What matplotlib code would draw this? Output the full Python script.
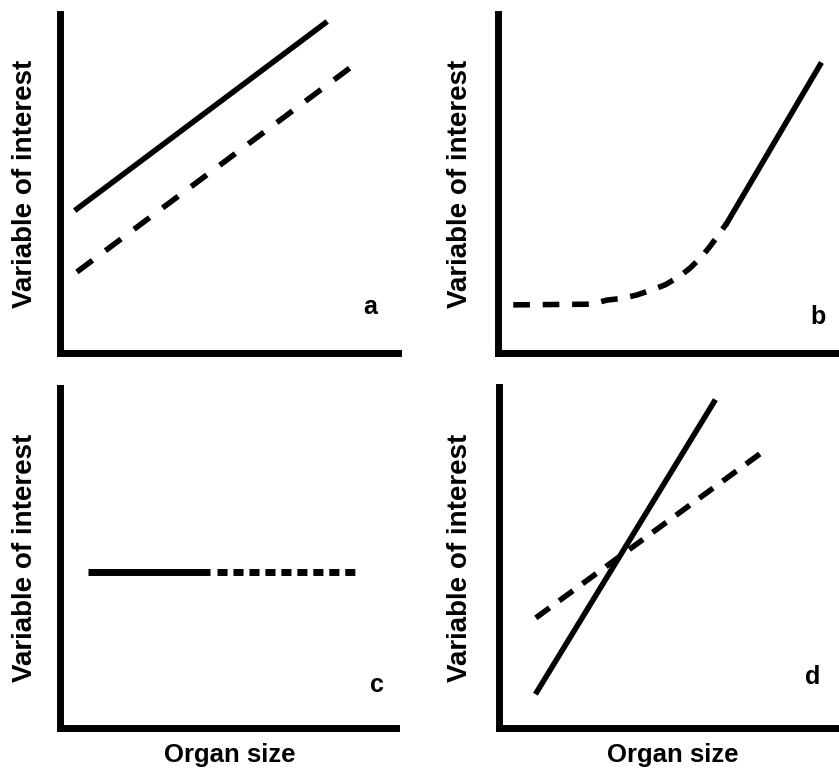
import matplotlib.pyplot as plt
import numpy as np

plt.rcParams['font.family'] = ['Liberation Sans', 'DejaVu Sans']

# panel a: two parallel lines
a_x = [0.5, 7.84]
a_solid = [4.25, 9.73]
a_dash_x = [0.5, 8.58]
a_dash = [2.39, 8.41]

# panel b: flat dashed part bending into a steep solid line
b_dash_x = [0.45, 2.76, 3.21, 3.65, 4.09, 4.53, 4.93, 5.37, 5.66, 6.01, 6.25, 6.5, 6.75]
b_dash = [1.42, 1.44, 1.56, 1.61, 1.71, 1.86, 2.01, 2.27, 2.50, 2.84, 3.14, 3.48, 3.83]
b_solid_x = [6.75, 9.5]
b_solid = [3.83, 8.5]

# panel c: constant value
c_solid_x = [0.83, 4.46]
c_dash_x = [4.67, 8.87]
c_level = 4.59

# panel d: crossing lines
d_solid_x = [1.12, 6.36]
d_solid = [1.06, 9.56]
d_dash_x = [1.09, 7.72]
d_dash = [3.23, 8.04]

panel_labels = ['a', 'b', 'c', 'd']
ylabel = 'Variable of interest'
xlabel = 'Organ size'

W, H = 839, 768
fig = plt.figure(figsize=(W / 100, H / 100), dpi=100)

# (left, top, right, bottom) in pixels
boxes = [(60, 14, 398, 353), (498, 14, 837, 353),
         (60, 388, 396, 728), (499, 387, 837, 728)]
axes = []
for l, t, r, b in boxes:
    ax = fig.add_axes([l / W, (H - b) / H, (r - l) / W, (b - t) / H])
    ax.set_xlim(0, 10)
    ax.set_ylim(0, 10)
    ax.set_xticks([])
    ax.set_yticks([])
    for s in ['top', 'right']:
        ax.spines[s].set_visible(False)
    for s in ['left', 'bottom']:
        ax.spines[s].set_linewidth(5)
        ax.spines[s].set_capstyle('projecting')
    axes.append(ax)

lw = 4
ax = axes[0]
ax.plot(a_x, a_solid, color='black', lw=lw)
ax.plot(a_dash_x, a_dash, color='black', lw=lw, dashes=[3.5, 2.92])

ax = axes[1]
ax.plot(b_dash_x, b_dash, color='black', lw=lw, dashes=[3.0, 2.3])
ax.plot(b_solid_x, b_solid, color='black', lw=lw)

ax = axes[2]
ax.plot(c_solid_x, [c_level] * 2, color='black', lw=5, solid_capstyle='butt')
ax.plot(c_dash_x, [c_level] * 2, color='black', lw=5, dashes=[1.45, 0.85])

ax = axes[3]
ax.plot(d_solid_x, d_solid, color='black', lw=lw)
ax.plot(d_dash_x, d_dash, color='black', lw=lw, dashes=[3.06, 2.15])

label_pos = [(9.17, 1.36), (9.44, 1.06), (9.43, 1.26), (9.29, 1.5)]
ylab_x = [-0.104, -0.112, -0.104, -0.115]
for ax, lab, (lx, ly), yx in zip(axes, panel_labels, label_pos, ylab_x):
    ax.text(lx, ly, lab, fontsize=18, fontweight='bold', ha='center', va='center')
    ax.text(yx, 0.5, ylabel, transform=ax.transAxes, rotation=90,
            fontsize=20, fontweight='bold', ha='center', va='center')

axes[2].text(0.506, -0.08, xlabel, transform=axes[2].transAxes,
             fontsize=18.5, fontweight='bold', ha='center', va='center')
axes[3].text(0.515, -0.08, xlabel, transform=axes[3].transAxes,
             fontsize=18.5, fontweight='bold', ha='center', va='center')

fig.savefig('out.png', dpi=100)
